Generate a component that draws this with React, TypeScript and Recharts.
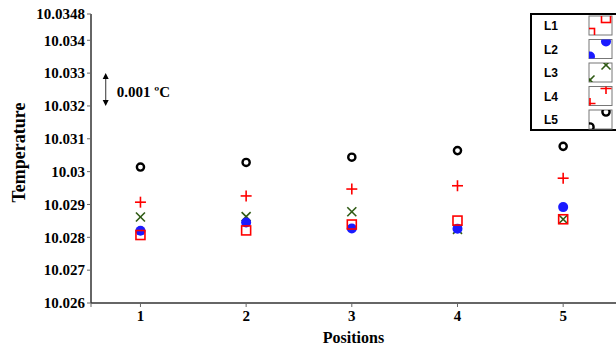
import React from 'react';
import { ScatterChart, Scatter, XAxis, YAxis, ReferenceLine } from 'recharts';

const positions = [1, 2, 3, 4, 5];
const seriesNames = ['L1', 'L2', 'L3', 'L4', 'L5'];
const L1 = [10.02807, 10.02821, 10.02839, 10.02851, 10.02855];
const L2 = [10.0282, 10.02845, 10.02827, 10.02826, 10.02892];
const L3 = [10.02862, 10.02863, 10.02878, 10.02824, 10.02855];
const L4 = [10.02907, 10.02926, 10.02947, 10.02957, 10.0298];
const L5 = [10.03014, 10.03028, 10.03044, 10.03064, 10.03077];
const yTicks = [10.026, 10.027, 10.028, 10.029, 10.03, 10.031, 10.032, 10.033, 10.034, 10.0348];
const xTicks = [0.532, 1, 2, 3, 4, 5];
const xDomain = [0.532, 5.5];
const yDomain = [10.026, 10.0348];
const scaleBar = { x: 0.671, from: 10.032, to: 10.033, text: '0.001 ºC' };

const RED = '#ff0000';
const BLUE = '#1a1aff';
const GREEN = '#2f5a14';
const BLACK = '#000000';

const toData = (vals: number[]) => positions.map((p, i) => ({ x: p, y: vals[i] }));

type MarkerKind = 'square' | 'dot' | 'x' | 'plus' | 'circle';

const Marker = ({ kind, cx, cy }: { kind: MarkerKind; cx: number; cy: number }) => {
  switch (kind) {
    case 'square':
      return <rect x={cx - 4.5} y={cy - 4.5} width={9} height={9} fill="none" stroke={RED} strokeWidth={1.6} />;
    case 'dot':
      return <circle cx={cx} cy={cy} r={5} fill={BLUE} stroke="none" />;
    case 'x':
      return (
        <g stroke={GREEN} strokeWidth={1.6}>
          <line x1={cx - 4.5} y1={cy - 4.5} x2={cx + 4.5} y2={cy + 4.5} />
          <line x1={cx - 4.5} y1={cy + 4.5} x2={cx + 4.5} y2={cy - 4.5} />
        </g>
      );
    case 'plus':
      return (
        <g stroke={RED} strokeWidth={1.6}>
          <line x1={cx - 5.5} y1={cy} x2={cx + 5.5} y2={cy} />
          <line x1={cx} y1={cy - 5.5} x2={cx} y2={cy + 5.5} />
        </g>
      );
    case 'circle':
    default:
      return <circle cx={cx} cy={cy} r={3.6} fill="none" stroke={BLACK} strokeWidth={2.4} />;
  }
};

const series: { name: string; vals: number[]; kind: MarkerKind }[] = [
  { name: seriesNames[0], vals: L1, kind: 'square' },
  { name: seriesNames[1], vals: L2, kind: 'dot' },
  { name: seriesNames[2], vals: L3, kind: 'x' },
  { name: seriesNames[3], vals: L4, kind: 'plus' },
  { name: seriesNames[4], vals: L5, kind: 'circle' },
];
// drawing order: X, dot, square, plus, circle
const drawOrder = [2, 1, 0, 3, 4];

const serif = '"Liberation Serif", "Times New Roman", serif';

const fmtY = (v: number) => String(Number(v.toFixed(4)));
const fmtX = (v: number) => (Number.isInteger(v) ? String(v) : '');

const ScaleBarShape = (props: any) => {
  const { x1, y1, x2, y2 } = props;
  const x = x1;
  const top = Math.min(y1, y2);
  const bot = Math.max(y1, y2);
  const mid = (top + bot) / 2;
  return (
    <g>
      <line x1={x} y1={top + 5} x2={x} y2={bot - 5} stroke="#555" strokeWidth={1.2} />
      <polygon points={`${x - 3},${top + 6} ${x + 3},${top + 6} ${x},${top}`} fill="#000" />
      <polygon points={`${x - 3},${bot - 6} ${x + 3},${bot - 6} ${x},${bot}`} fill="#000" />
      <text x={x + 11} y={mid + 7} fontFamily={serif} fontWeight="bold" fontSize={15} fill="#000">
        {scaleBar.text}
      </text>
    </g>
  );
};

const LegendBox = () => {
  const itemH = 23.5;
  return (
    <svg
      width={88}
      height={120}
      style={{ position: 'absolute', left: 529, top: 12, overflow: 'visible' }}
    >
      <rect x={2} y={2} width={90} height={116} fill="#fff" stroke="#000" strokeWidth={2} />
      <defs>
        {series.map((s, i) => (
          <clipPath id={`lg-clip-${i}`} key={s.name}>
            <rect x={60} y={4 + i * itemH} width={23} height={19} />
          </clipPath>
        ))}
      </defs>
      {series.map((s, i) => {
        const by = 4 + i * itemH;
        return (
          <g key={s.name}>
            <text
              x={15}
              y={by + 14}
              fontFamily='"Liberation Sans", Arial, sans-serif'
              fontWeight="bold"
              fontSize={12}
              fill="#000"
            >
              {s.name}
            </text>
            <rect x={60} y={by} width={23} height={19} fill="#fff" stroke="#777" strokeWidth={1} />
            <g clipPath={`url(#lg-clip-${i})`}>
              <Marker kind={s.kind} cx={60 + 17} cy={by + 2} />
              <Marker kind={s.kind} cx={60 + 1} cy={by + 17} />
            </g>
          </g>
        );
      })}
    </svg>
  );
};

export default function App() {
  return (
    <div style={{ position: 'absolute', left: 0, top: 0, width: 616, height: 350, background: '#fff' }}>
      <ScatterChart width={616} height={350} margin={{ top: 14, right: 0, bottom: 0, left: 0 }}>
        <XAxis
          xAxisId="top"
          orientation="top"
          type="number"
          dataKey="x"
          domain={xDomain}
          allowDataOverflow
          height={0}
          tick={false}
          tickLine={false}
          axisLine={{ stroke: '#222', strokeWidth: 2 }}
        />
        <XAxis
          type="number"
          dataKey="x"
          domain={xDomain}
          ticks={xTicks}
          tickFormatter={fmtX}
          allowDataOverflow
          height={47}
          interval={0}
          tickSize={4}
          tickMargin={3}
          tick={{ fontFamily: serif, fontWeight: 'bold', fontSize: 15, fill: '#000' }}
          tickLine={{ stroke: '#666' }}
          axisLine={{ stroke: '#333', strokeWidth: 1.5 }}
          label={{
            value: 'Positions',
            position: 'insideBottom',
            offset: 7,
            style: { fontFamily: serif, fontWeight: 'bold', fontSize: 16, fill: '#000' },
          }}
        />
        <YAxis
          type="number"
          dataKey="y"
          domain={yDomain}
          ticks={yTicks}
          tickFormatter={fmtY}
          allowDataOverflow
          width={91}
          interval={0}
          tickSize={4}
          tickMargin={2}
          tick={{ fontFamily: serif, fontWeight: 'bold', fontSize: 15, fill: '#000' }}
          tickLine={{ stroke: '#666' }}
          axisLine={{ stroke: '#333', strokeWidth: 1.5 }}
          label={{
            value: 'Temperature',
            angle: -90,
            position: 'insideLeft',
            offset: 19,
            dy: -6,
            style: { fontFamily: serif, fontWeight: 'bold', fontSize: 18, fill: '#000', textAnchor: 'middle' },
          }}
        />
        <ReferenceLine
          segment={[
            { x: scaleBar.x, y: scaleBar.from },
            { x: scaleBar.x, y: scaleBar.to },
          ]}
          shape={ScaleBarShape}
          ifOverflow="visible"
        />
        {drawOrder.map((idx) => {
          const s = series[idx];
          return (
            <Scatter
              key={s.name}
              name={s.name}
              data={toData(s.vals)}
              isAnimationActive={false}
              shape={(p: any) => <Marker kind={s.kind} cx={p.cx} cy={p.cy} />}
            />
          );
        })}
      </ScatterChart>
      <LegendBox />
    </div>
  );
}
